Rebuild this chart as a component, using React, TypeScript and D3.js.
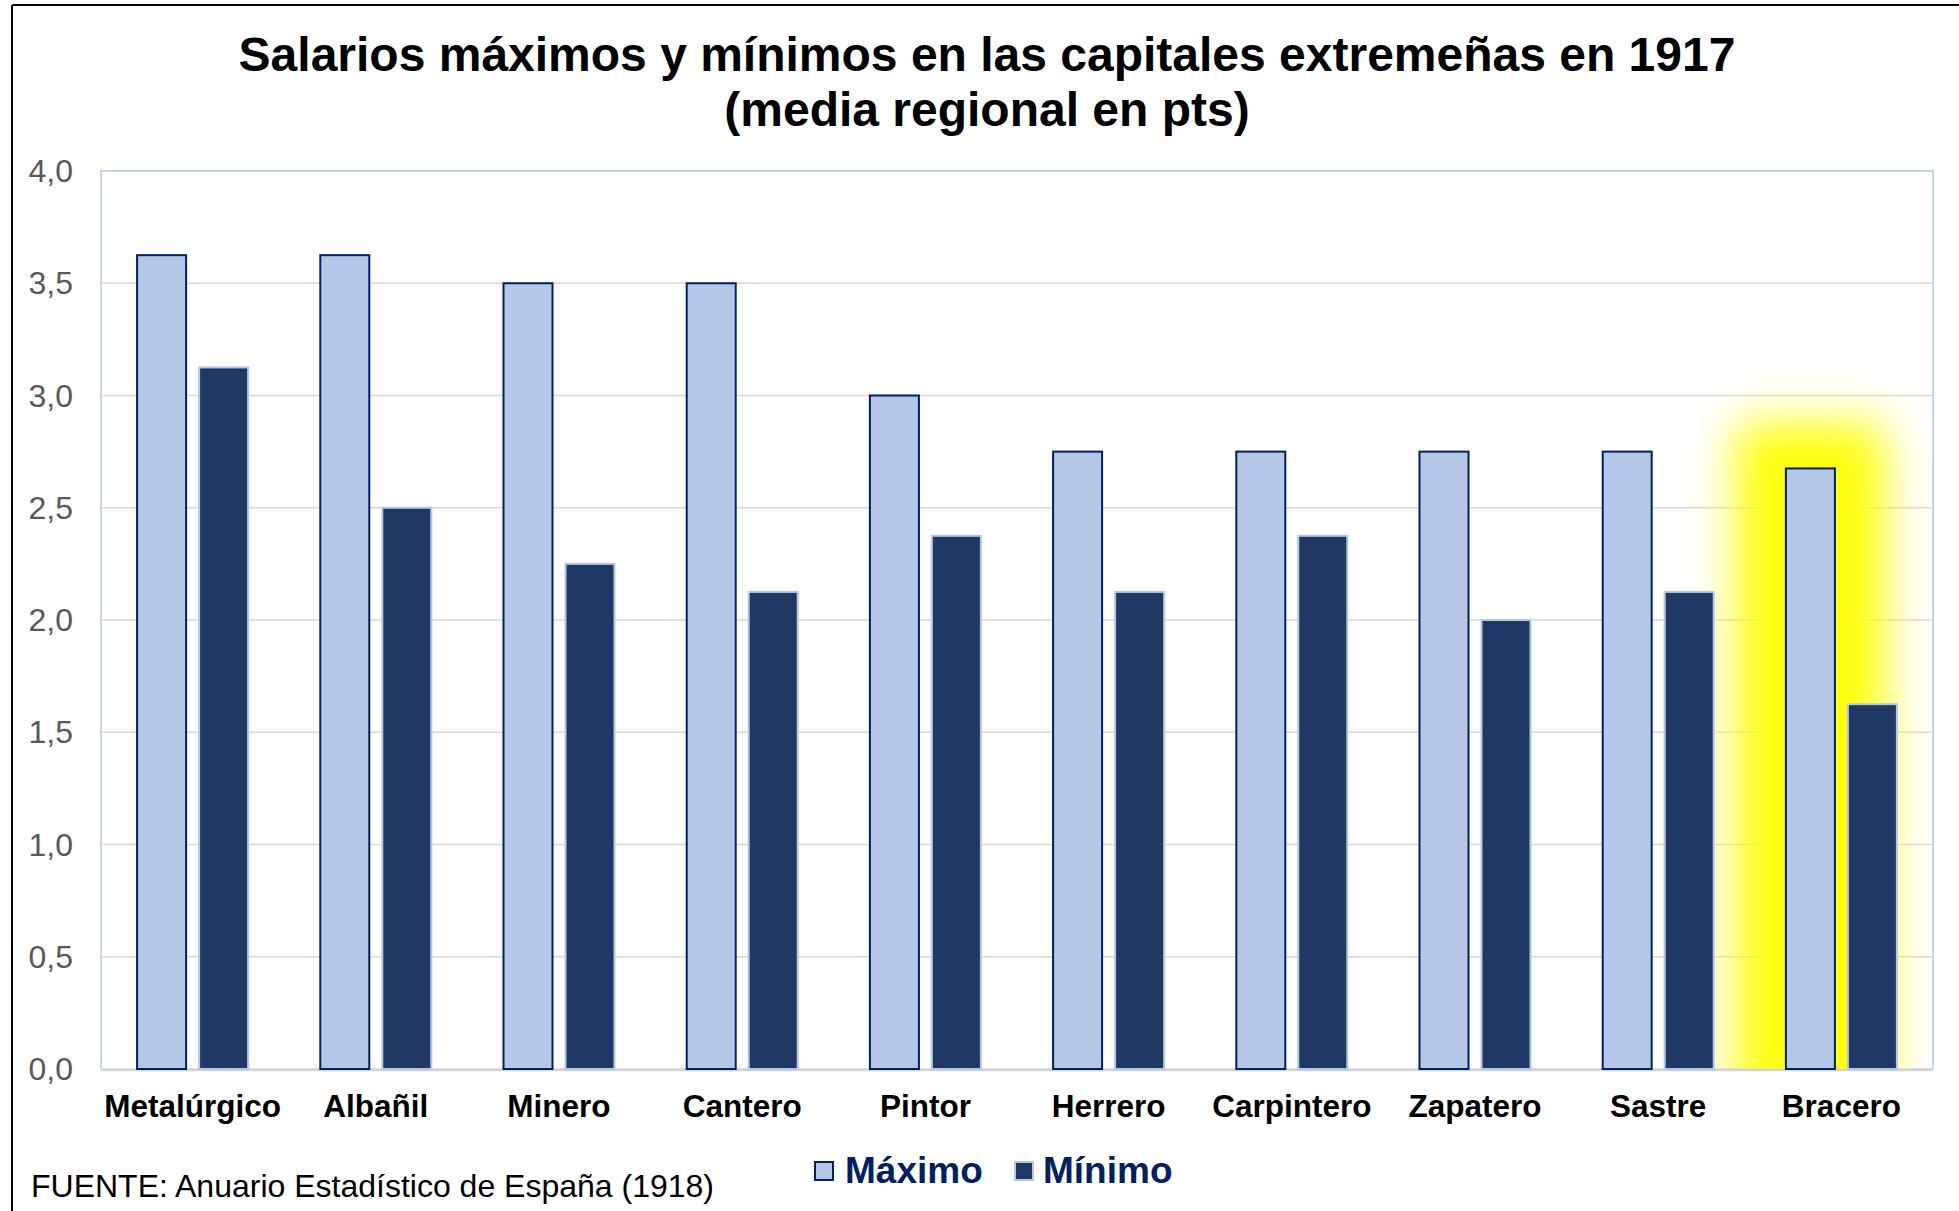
import React from "react";
import * as d3 from "d3";

const categories = ["Metalúrgico", "Albañil", "Minero", "Cantero", "Pintor", "Herrero", "Carpintero", "Zapatero", "Sastre", "Bracero"];
const maximo = [3.625, 3.625, 3.5, 3.5, 3.0, 2.75, 2.75, 2.75, 2.75, 2.675];
const minimo = [3.125, 2.5, 2.25, 2.125, 2.375, 2.125, 2.375, 2.0, 2.125, 1.625];
const yTicks = [0, 0.5, 1, 1.5, 2, 2.5, 3, 3.5, 4];
const highlighted = "Bracero";
const titleLines = ["Salarios máximos y mínimos en las capitales extremeñas en 1917", "(media regional en pts)"];
const source = "FUENTE: Anuario Estadístico de España (1918)";
const seriesNames = ["Máximo", "Mínimo"];

const W = 1959;
const H = 1211;
const plot = { left: 101, top: 171, right: 1933, bottom: 1069 };
const MAX_FILL = "#B4C7E7";
const MAX_STROKE = "#002060";
const MIN_FILL = "#203864";
const MIN_STROKE = "#B4C7E7";
const FONT = "Arial, 'Liberation Sans', Helvetica, sans-serif";

export default function App() {
  const x = d3.scaleBand<string>().domain(categories).range([plot.left, plot.right]).padding(0);
  const y = d3.scaleLinear().domain([0, 4]).range([plot.bottom, plot.top]);
  const barW = 49;
  const gap = 13;
  const pairW = barW * 2 + gap;
  const bw = x.bandwidth();
  const fmt = (v: number) => v.toFixed(1).replace(".", ",");

  const hi = categories.indexOf(highlighted);
  const hiX = (x(highlighted) as number) + (bw - pairW) / 2;
  const hiTop = y(maximo[hi]);

  return (
    <svg width={W} height={H} style={{ position: "absolute", left: 0, top: 0, background: "#fff" }} fontFamily={FONT}>
      <defs>
        <filter id="glow" x="-100%" y="-100%" width="300%" height="300%">
          <feGaussianBlur stdDeviation="24" />
        </filter>
        <clipPath id="plotClip">
          <rect x={plot.left} y={plot.top} width={plot.right - plot.left} height={plot.bottom - plot.top} />
        </clipPath>
      </defs>
      <rect x={0} y={0} width={W} height={H} fill="#fff" />
      {/* outer frame */}
      <line x1={12} y1={5} x2={12} y2={H} stroke="#000" strokeWidth={2} />
      <line x1={12} y1={5} x2={W} y2={5} stroke="#000" strokeWidth={2} />

      {/* title */}
      {titleLines.map((t, i) => (
        <text key={i} x={987} y={71 + i * 55} textAnchor="middle" fontSize={48} fontWeight="bold" fill="#000">
          {t}
        </text>
      ))}

      {/* gridlines */}
      {yTicks.map((t) => (
        <line key={t} x1={plot.left} x2={plot.right} y1={y(t)} y2={y(t)} stroke="#D9D9D9" strokeWidth={1.5} />
      ))}

      {/* glow on highlighted category */}
      <g clipPath="url(#plotClip)">
        <rect
          x={hiX - 50}
          y={hiTop - 46}
          width={barW + 100}
          height={plot.bottom - hiTop + 140}
          fill="#FFFF00"
          opacity={0.97}
          filter="url(#glow)"
        />
      </g>

      {/* plot border */}
      <path
        d={`M${plot.left},${plot.bottom} V${plot.top} H${plot.right} V${plot.bottom}`}
        fill="none"
        stroke="#C5D5EE"
        strokeWidth={2}
      />
      <line x1={plot.left} x2={plot.right} y1={plot.bottom + 1} y2={plot.bottom + 1} stroke="#D0D5DD" strokeWidth={2.5} />

      {/* bars */}
      {categories.map((c, i) => {
        const x0 = (x(c) as number) + (bw - pairW) / 2;
        return (
          <g key={c}>
            <rect x={x0} y={y(maximo[i])} width={barW} height={plot.bottom - y(maximo[i])} fill={MAX_FILL} stroke={MAX_STROKE} strokeWidth={2} />
            <rect x={x0 + barW + gap} y={y(minimo[i])} width={barW} height={plot.bottom - y(minimo[i])} fill={MIN_FILL} stroke={MIN_STROKE} strokeWidth={2} />
          </g>
        );
      })}

      {/* y tick labels */}
      {yTicks.map((t) => (
        <text key={t} x={73} y={y(t)} dy="0.35em" textAnchor="end" fontSize={32} fill="#595959">
          {fmt(t)}
        </text>
      ))}

      {/* category labels */}
      {categories.map((c) => (
        <text key={c} x={(x(c) as number) + bw / 2} y={1117} textAnchor="middle" fontSize={31.5} fontWeight="bold" fill="#000">
          {c}
        </text>
      ))}

      {/* legend */}
      <g>
        <rect x={815} y={1162} width={18} height={18} fill={MAX_FILL} stroke={MAX_STROKE} strokeWidth={2} />
        <text x={845} y={1183} fontSize={37} fontWeight="bold" fill="#002060">{seriesNames[0]}</text>
        <rect x={1015} y={1162} width={18} height={18} fill={MIN_FILL} stroke={MIN_STROKE} strokeWidth={2} />
        <text x={1043} y={1183} fontSize={37} fontWeight="bold" fill="#002060">{seriesNames[1]}</text>
      </g>

      {/* source */}
      <text x={31} y={1197} fontSize={32} fill="#000">{source}</text>
    </svg>
  );
}
